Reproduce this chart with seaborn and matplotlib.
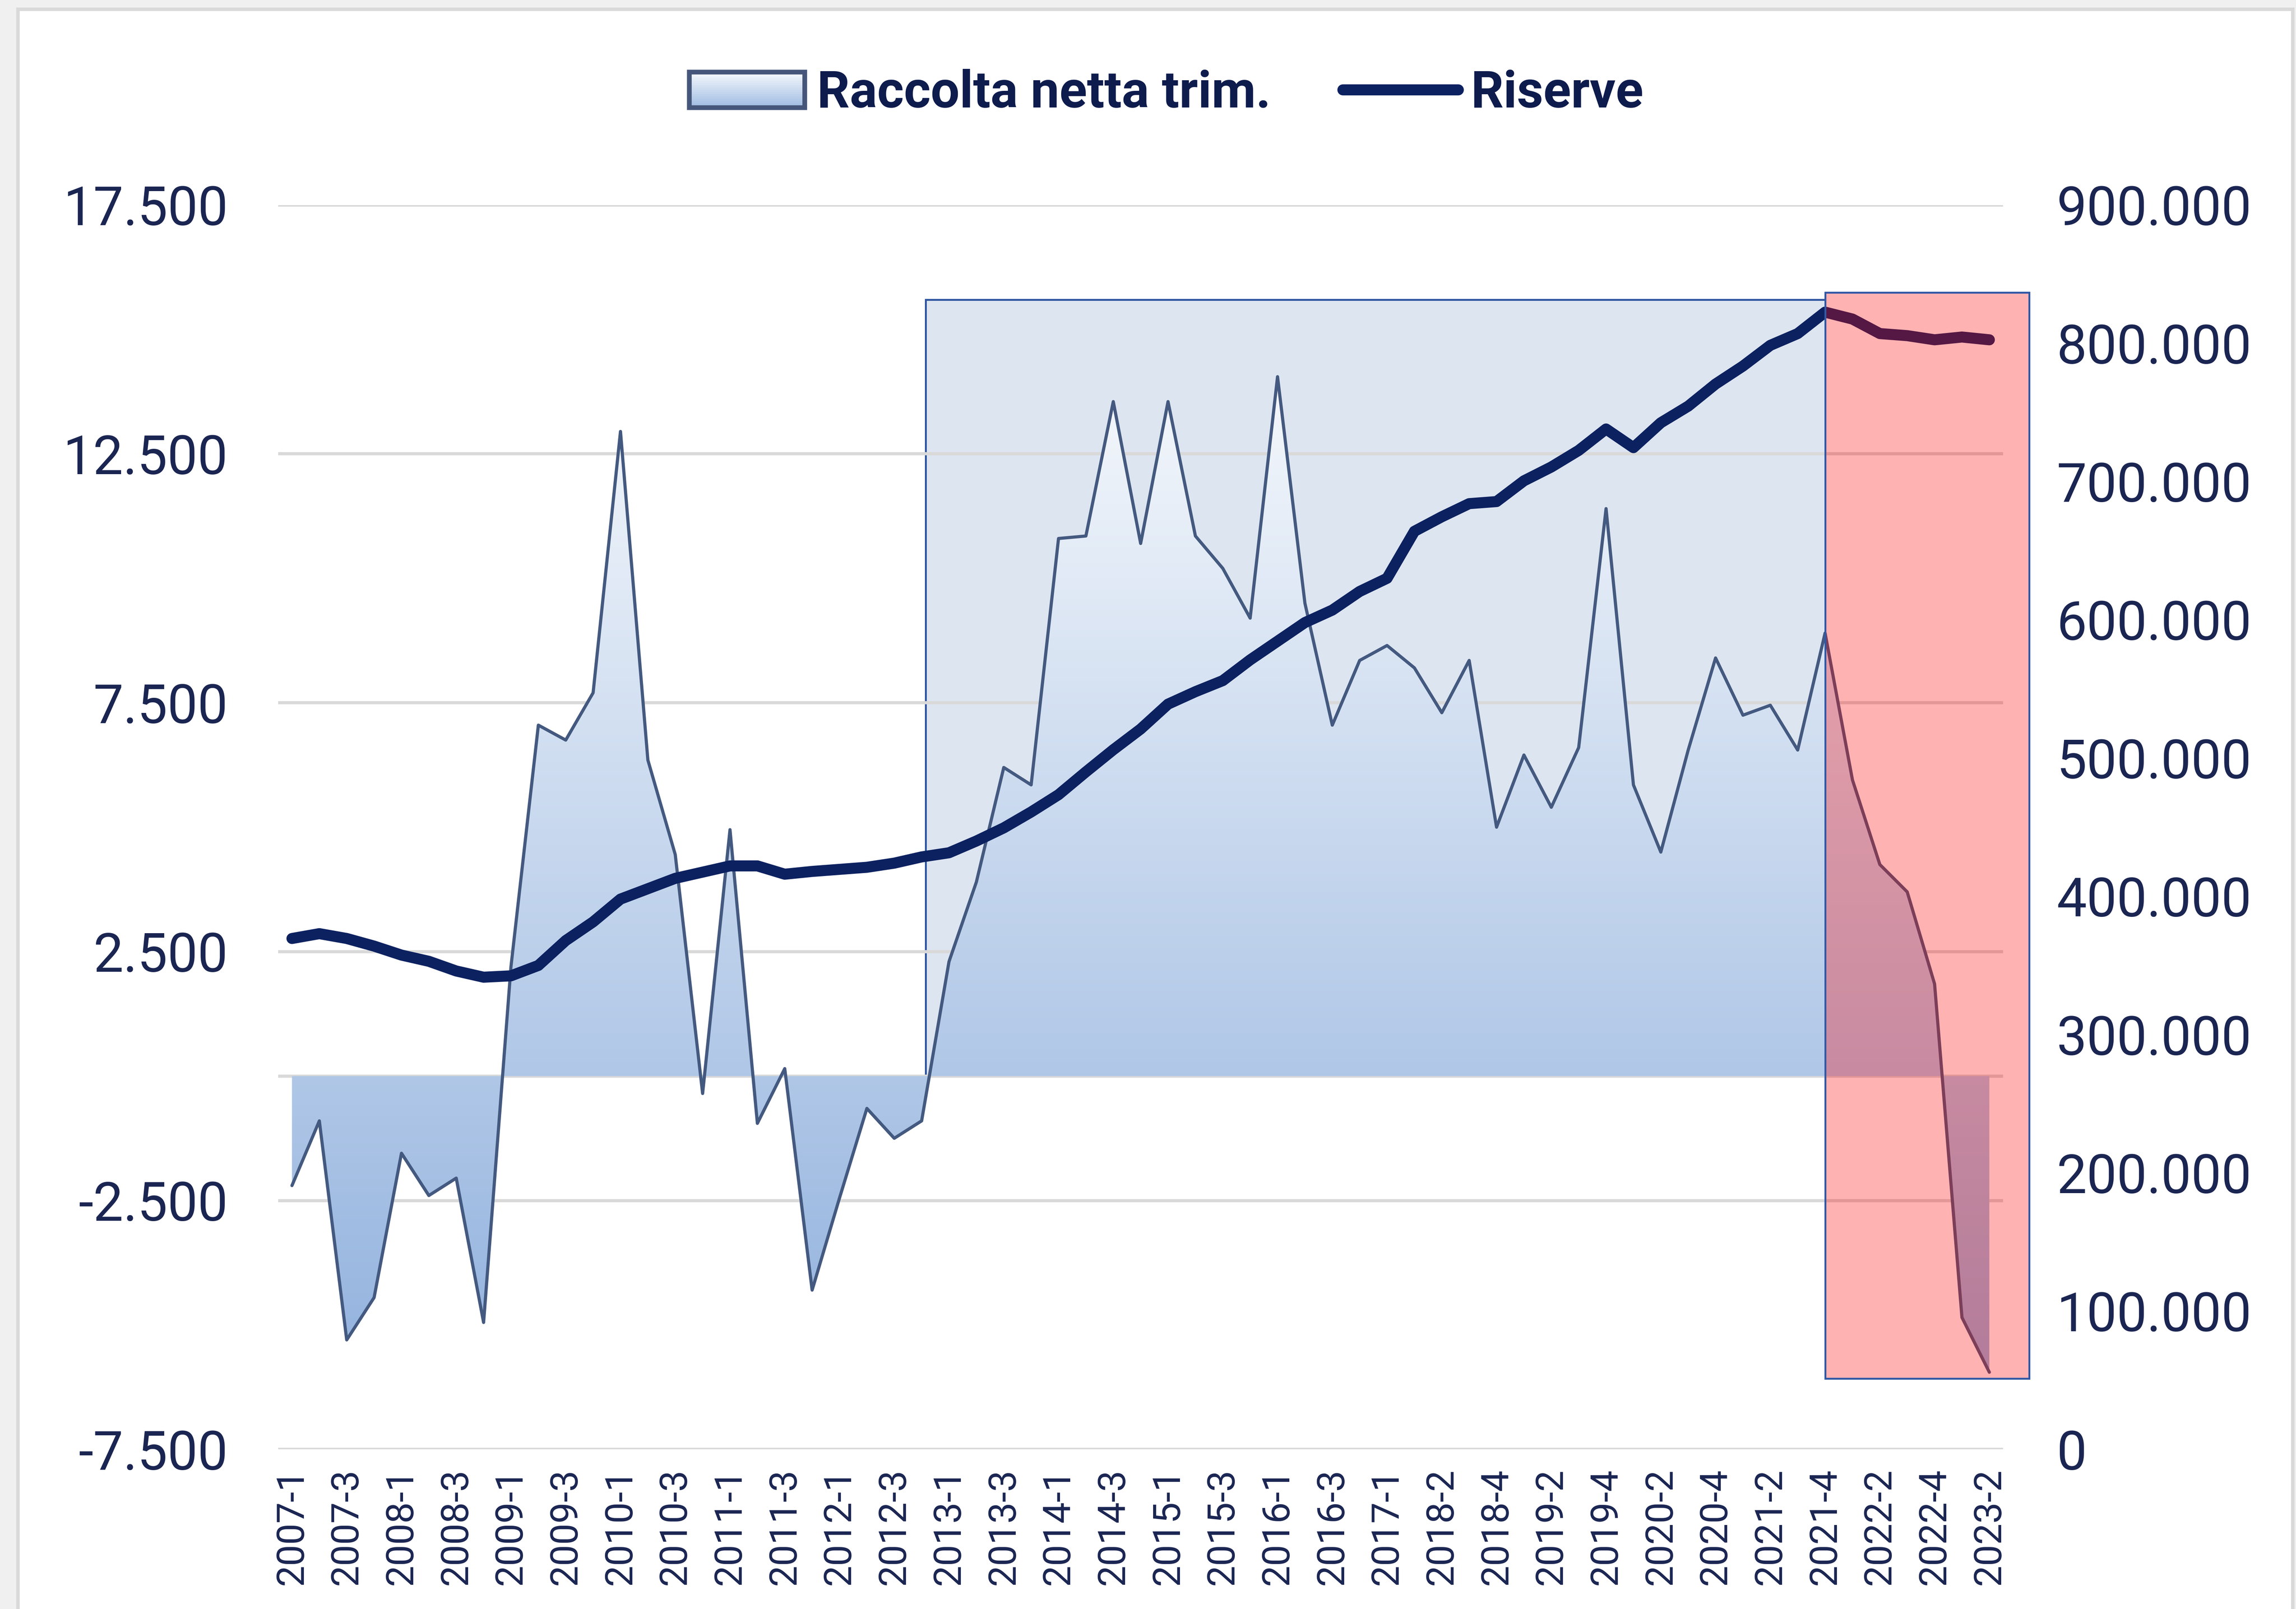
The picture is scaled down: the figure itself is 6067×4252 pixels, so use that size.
import numpy as np
import pandas as pd
import matplotlib
matplotlib.use("Agg")
import matplotlib.pyplot as plt
import seaborn as sns
from matplotlib.patches import Rectangle, Patch
from matplotlib.lines import Line2D
from matplotlib.colors import LinearSegmentedColormap
from matplotlib.legend_handler import HandlerBase
from matplotlib.ticker import FuncFormatter

# quarters (2017-2 .. 2017-4 are missing in the source series)
trimestri = ([f"{y}-{q}" for y in range(2007, 2017) for q in range(1, 5)] + ["2017-1"]
             + [f"{y}-{q}" for y in range(2018, 2023) for q in range(1, 5)] + ["2023-1", "2023-2"])

# net quarterly inflows (left axis)
raccolta = [-2200, -900, -5300, -4450, -1550, -2400, -2050, -4950, 2200, 7050,
            6750, 7700, 12950, 6350, 4450, -350, 4950, -950, 150, -4300,
            -2450, -650, -1250, -900, 2300, 3900, 6200, 5850, 10800, 10850,
            13550, 10700, 13550, 10850, 10200, 9200, 14050, 9500, 7050, 8350,
            8650, 8200, 7300, 8350, 5000, 6450, 5400, 6600, 11400, 5850,
            4500, 6550, 8400, 7250, 7450, 6550, 8900, 5950, 4250, 3700,
            1850, -4850, -5950]

# reserves (right axis)
riserve = [369500, 373000, 369500, 364000, 357500, 353000, 346000, 341500, 342500, 350000,
           368000, 381500, 398000, 405500, 413000, 417500, 422000, 422000, 416000, 418000,
           419500, 421000, 424000, 428500, 431500, 440000, 449500, 461000, 473500, 490000,
           506000, 521000, 539000, 548000, 556000, 571000, 584500, 598000, 607000, 620500,
           630000, 664000, 674500, 684000, 685500, 700500, 710500, 722500, 738000, 724500,
           742500, 754500, 770500, 783500, 798500, 807000, 822500, 817500, 807000, 805500,
           802500, 804500, 802500]

# highlight boxes (category index / left-axis units)
box_blu = (23.15, 56.0, 0, 15600)
box_rosso = (56.0, 63.45, -6080, 15740)

W, H, DPI = 6067, 4252, 300
TXT = "#1a2552"
NAVY = "#0c2160"

df = pd.DataFrame({"trimestre": trimestri, "raccolta": raccolta, "riserve": riserve})
df["pos"] = np.arange(len(df))

sns.set_theme(style="white")
plt.rcParams["font.family"] = ["Roboto", "DejaVu Sans"]

grad_cmap = LinearSegmentedColormap.from_list("grad", ["#92b2de", "#f5f8fc"])


class GradHandler(HandlerBase):
    def create_artists(self, legend, orig_handle, xdescent, ydescent, width, height, fontsize, trans):
        arts = []
        n = 16
        for k in range(n):
            arts.append(Rectangle((-xdescent, -ydescent + height * k / n), width, height / n + 0.5,
                                  facecolor=grad_cmap(0.15 + 0.85 * k / (n - 1)), edgecolor="none",
                                  transform=trans))
        arts.append(Rectangle((-xdescent, -ydescent), width, height, facecolor="none",
                              edgecolor="#46567a", lw=3, transform=trans))
        return arts


fig = plt.figure(figsize=(W / DPI, H / DPI), dpi=DPI, facecolor="#f0f0f0")
fig.add_artist(Rectangle((47 / W, -0.02), (6058 - 47) / W, 1.02 - 24 / H, transform=fig.transFigure,
                         facecolor="white", edgecolor="#d9d9d9", lw=2.2, zorder=-1))

ax = fig.add_axes([0.1212, 0.0992, 0.7512, 0.7734])
ax.patch.set_alpha(0)
ax2 = ax.twinx()

# blue highlight box
x0, x1, y0, y1 = box_blu
ax.add_patch(Rectangle((x0, y0), x1 - x0, y1 - y0, facecolor="#dde5f1", edgecolor="#2f55a0",
                       lw=1.2, zorder=0.2))

# gradient area
poly = ax.fill_between(df["pos"], df["raccolta"], 0, facecolor="none", edgecolor="none", zorder=2)
grad = np.linspace(1, 0, 256)[:, None]
im = ax.imshow(grad, cmap=grad_cmap, vmin=0, vmax=1, aspect="auto", origin="upper",
               extent=[-0.5, 62.5, min(raccolta) - 150, max(raccolta) + 50], zorder=2)
im.set_clip_path(poly.get_paths()[0], transform=ax.transData)
sns.lineplot(data=df, x="pos", y="raccolta", ax=ax, color="#44597f", lw=2, zorder=3)

ax.axhline(0, color="#d9d9d9", lw=2, zorder=0.6)

# reserves line
sns.lineplot(data=df, x="pos", y="riserve", ax=ax2, color=NAVY, lw=7, zorder=3)

# red highlight box on top
x0, x1, y0, y1 = box_rosso
ax2.add_patch(Rectangle((x0, y0), x1 - x0, y1 - y0, transform=ax.transData,
                        facecolor=(1, 0, 0, 0.3), edgecolor="#3358a5", lw=1.2,
                        zorder=5, clip_on=False))

fmt = FuncFormatter(lambda v, p: f"{v:,.0f}".replace(",", "."))

ax.set_xlim(-0.5, 62.5)
ax.set_ylim(-7500, 17500)
ax.set_yticks(range(-7500, 17501, 5000))
ax.yaxis.set_major_formatter(fmt)
ax.yaxis.grid(True, color="#d9d9d9", lw=2)
ax.set_axisbelow(True)
ax.set_xticks(df["pos"][::2])
ax.set_xticklabels(df["trimestre"][::2])
ax.tick_params(axis="y", length=0, pad=32, labelsize=34, labelcolor=TXT)
ax.tick_params(axis="x", length=0, pad=12, labelsize=24, labelcolor=TXT, labelrotation=90)

ax2.set_ylim(0, 900000)
ax2.set_yticks(range(0, 900001, 100000))
ax2.yaxis.set_major_formatter(fmt)
ax2.grid(False)
ax2.tick_params(axis="y", length=0, pad=34, labelsize=34, labelcolor=TXT)

for a in (ax, ax2):
    a.set_xlabel("")
    a.set_ylabel("")
    for s in a.spines.values():
        s.set_visible(False)

handles = [Patch(), Line2D([], [], color=NAVY, lw=7)]
fig.legend(handles, ["Raccolta netta trim.", "Riserve"], handler_map={Patch: GradHandler()},
           loc="center", bbox_to_anchor=(0.508, 0.9418), ncol=2, frameon=False,
           prop={"family": "Roboto", "weight": "bold", "size": 32.5}, labelcolor="#0d1b4d",
           handlelength=2.25, handleheight=0.7, handletextpad=0.25, columnspacing=1.4)

fig.savefig("out.png", dpi=DPI, facecolor=fig.get_facecolor())
